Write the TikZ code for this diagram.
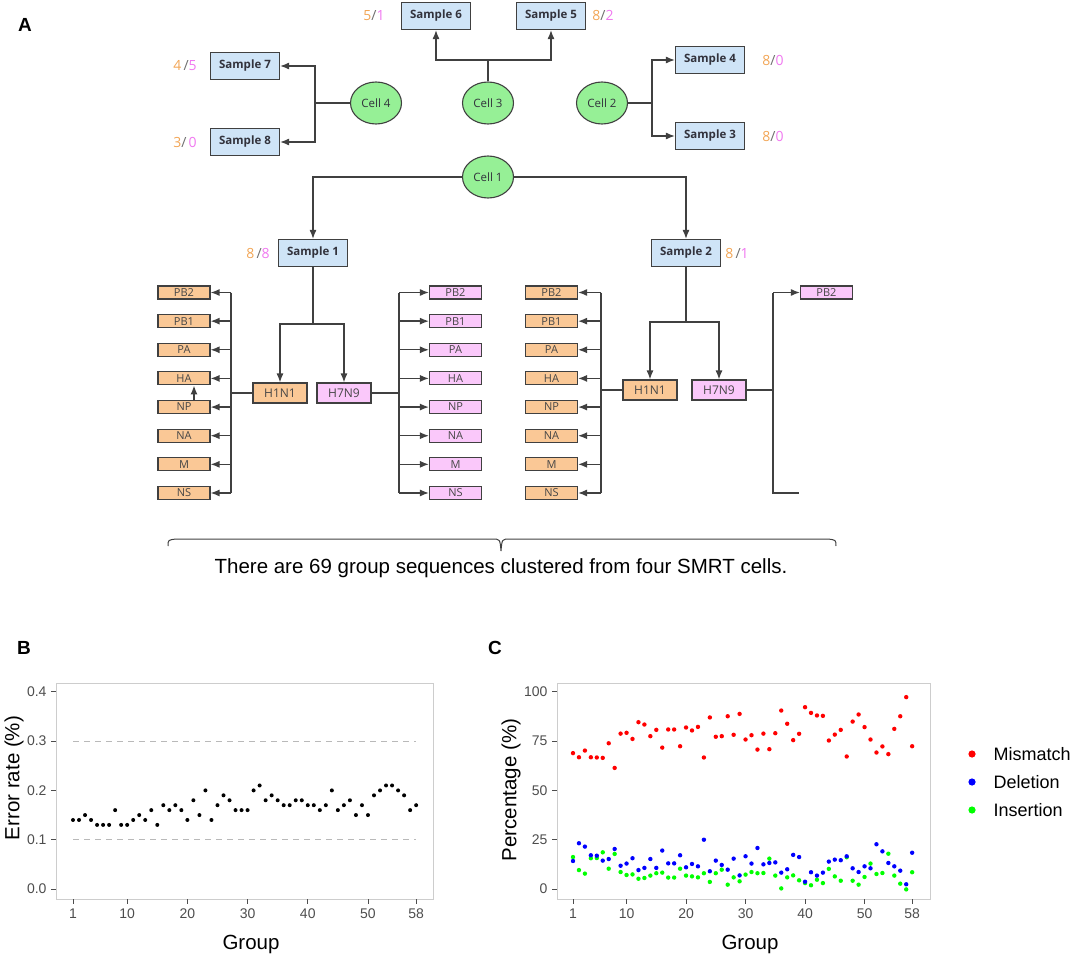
\documentclass[tikz,border=0pt]{standalone}
\usepackage{fontspec}
\setmainfont{Liberation Sans}
\newfontfamily\boxfont{Open Sans}
\usetikzlibrary{shapes.geometric,arrows.meta}
\newcommand\myfs[1]{\fontsize{#1}{#1}\selectfont}
\definecolor{dg}{RGB}{64,64,64}
\definecolor{dtext}{RGB}{50,50,60}
\definecolor{gtext}{RGB}{70,70,70}
\definecolor{sblue}{RGB}{207,228,247}
\definecolor{cgreen}{RGB}{150,240,150}
\definecolor{orfill}{RGB}{250,200,150}
\definecolor{pkfill}{RGB}{250,200,250}
\definecolor{ornum}{RGB}{242,165,85}
\definecolor{pknum}{RGB}{240,120,240}
\definecolor{slashc}{RGB}{110,110,110}
\definecolor{tickc}{RGB}{77,77,77}
\definecolor{framec}{RGB}{205,205,205}
\definecolor{dashc}{RGB}{185,185,185}
\tikzset{
  samp/.style={draw=dg, line width=1.1pt, fill=sblue, minimum width=69pt, minimum height=27pt, inner sep=0pt, font=\boxfont\bfseries\myfs{11.5}, text=dtext},
  cellnode/.style={ellipse, draw=dg, line width=1.1pt, fill=cgreen, minimum width=51pt, minimum height=42pt, inner sep=0pt, font=\boxfont\myfs{11.5}, text=dtext},
  gor/.style={draw=dg, line width=1.1pt, fill=orfill, minimum width=52pt, minimum height=13pt, inner sep=0pt, font=\boxfont\myfs{11}, text=gtext},
  gpk/.style={gor, fill=pkfill},
  subor/.style={gor, minimum width=54pt, minimum height=20pt, font=\boxfont\myfs{12}},
  subpk/.style={subor, fill=pkfill},
  conn/.style={draw=dg, line width=1.3pt},
  arr/.style={conn, -{Latex[length=9pt,width=7pt]}},
  ratio/.style={font=\boxfont\myfs{14}},
  ticklab/.style={font=\myfs{14}, text=tickc},
  axtitle/.style={font=\myfs{20.5}},
  panel/.style={font=\bfseries\myfs{19}},
  frame/.style={draw=framec, line width=1pt},
  tk/.style={draw=tickc, line width=0.8pt},
  refline/.style={draw=dashc, line width=1pt, dash pattern=on 6pt off 5pt},
}
\begin{document}
\begin{tikzpicture}[x=1pt,y=-1pt]
\useasboundingbox (0,0) rectangle (1072,958);
% ---------------- Panel A ----------------
\node[panel] (lA) at (25,25) {A};
\node[samp] (s6) at (436,16) {Sample 6};
\node[samp] (s5) at (551,16) {Sample 5};
\node[samp] (s7) at (245,66) {Sample 7};
\node[samp] (s8) at (245,142) {Sample 8};
\node[samp] (s4) at (710,60) {Sample 4};
\node[samp] (s3) at (710,136) {Sample 3};
\node[samp] (s1) at (313,253) {Sample 1};
\node[samp] (s2) at (686,253) {Sample 2};
\node[cellnode] (c4) at (376,103) {Cell 4};
\node[cellnode] (c3) at (488,103) {Cell 3};
\node[cellnode] (c2) at (602,103) {Cell 2};
\node[cellnode] (c1) at (488,177) {Cell 1};
% ratios
\node[ratio] (r6) at (374,16) {\textcolor{ornum}{5}\textcolor{slashc}{/}\textcolor{pknum}{1}};
\node[ratio] (r5) at (603,16) {\textcolor{ornum}{8}\textcolor{slashc}{/}\textcolor{pknum}{2}};
\node[ratio] (r7) at (185,66) {\textcolor{ornum}{4}\,\textcolor{slashc}{/}\textcolor{pknum}{5}};
\node[ratio] (r8) at (185,142) {\textcolor{ornum}{3}\textcolor{slashc}{/}\,\textcolor{pknum}{0}};
\node[ratio] (r4) at (773,60) {\textcolor{ornum}{8}\textcolor{slashc}{/}\textcolor{pknum}{0}};
\node[ratio] (r3) at (773,136) {\textcolor{ornum}{8}\textcolor{slashc}{/}\textcolor{pknum}{0}};
\node[ratio] (r1) at (258,253) {\textcolor{ornum}{8}\,\textcolor{slashc}{/}\textcolor{pknum}{8}};
\node[ratio] (r2) at (737,253) {\textcolor{ornum}{8}\,\textcolor{slashc}{/}\textcolor{pknum}{1}};
% top connectors
\draw[conn] (c3.north) -- (488,60) coordinate (j3);
\draw[arr] (j3) -| (s6.south);
\draw[arr] (j3) -| (s5.south);
\draw[conn] (c4.west) -- (315,103) coordinate (j4);
\draw[arr] (j4) |- (s7.east);
\draw[arr] (j4) |- (s8.east);
\draw[conn] (c2.east) -- (652,103) coordinate (j2);
\draw[arr] (j2) |- (s4.west);
\draw[arr] (j2) |- (s3.west);
\draw[arr] (c1.west) -| (s1.north);
\draw[arr] (c1.east) -| (s2.north);
% subtype nodes
\node[subor] (h1l) at (280,393) {H1N1};
\node[subpk] (h7l) at (344,393) {H7N9};
\node[subor] (h1r) at (650,390) {H1N1};
\node[subpk] (h7r) at (719,390) {H7N9};
\draw[conn] (s1.south) -- (313,324) coordinate (js1);
\draw[arr] (js1) -| (h1l.north);
\draw[arr] (js1) -| (h7l.north);
\draw[conn] (s2.south) -- (686,322) coordinate (js2);
\draw[arr] (js2) -| (h1r.north);
\draw[arr] (js2) -| (h7r.north);
% gene boxes
\foreach \g [count=\i from 0] in {PB2,PB1,PA,HA,NP,NA,M,NS} {
  \node[gor] (lo\i) at (184,{292.5+\i*28.64}) {\g};
  \node[gpk] (lp\i) at (455.5,{292.5+\i*28.64}) {\g};
  \node[gor] (ro\i) at (551.5,{292.5+\i*28.64}) {\g};
}
\node[gpk] (rp0) at (826.5,292.5) {PB2};
\coordinate (jl) at (231,393);
\coordinate (jp) at (399,393);
\coordinate (jr) at (601,390);
\coordinate (jq) at (773,390);
\draw[conn] (h1l.west) -- (jl);
\draw[conn] (h7l.east) -- (jp);
\draw[conn] (h1r.west) -- (jr);
\draw[conn] (h7r.east) -- (jq);
\draw[conn] (jl |- lo0) -- (jl |- lo7);
\draw[conn] (jp |- lp0) -- (jp |- lp7);
\draw[conn] (jr |- ro0) -- (jr |- ro7);
\coordinate (qend) at (799,{292.5+7*28.64});
\draw[conn] (jq |- rp0) -- (jq |- qend) -- (qend);
\foreach \i in {0,...,7} {
  \draw[arr] (jl |- lo\i) -- (lo\i.east);
  \draw[arr] (jp |- lp\i) -- (lp\i.west);
  \draw[arr] (jr |- ro\i) -- (ro\i.east);
}
\draw[arr] (jq |- rp0) -- (rp0.west);
\draw[arr] ([xshift=10pt]lo4.north) -- ([xshift=10pt]lo3.south);
% brace
\draw[draw=dg, line width=1pt] (168,546) .. controls (168,540) .. (176,539) -- (492,539) .. controls (500,539) .. (501,551) .. controls (502,539) .. (510,539) -- (828,539) .. controls (836,540) .. (836,546);
\node[font=\myfs{20.5}] (note) at (501,568) {There are 69 group sequences clustered from four SMRT cells.};
% ---------------- Panel B ----------------
\node[panel] (lB) at (24,648) {B};
\draw[frame] (56,683) rectangle (433,899);
\draw[refline] (73,{889-0.3*493}) -- (416,{889-0.3*493});
\draw[refline] (73,{889-0.1*493}) -- (416,{889-0.1*493});
\foreach \v in {0.0,0.1,0.2,0.3,0.4} {
  \draw[tk] (51,{889-\v*493}) -- (56,{889-\v*493});
  \node[ticklab, anchor=east] at (50,{889-\v*493}) {\v};
}
\foreach \g in {1,10,20,30,40,50,58} {
  \draw[tk] ({73+(\g-1)*6.02},899) -- ({73+(\g-1)*6.02},904);
  \node[ticklab, anchor=north] at ({73+(\g-1)*6.02},905) {\g};
}
\node[axtitle] (bx) at (251,944) {Group};
\node[axtitle, rotate=90] (by) at (14,778) {Error rate (\%)};
\foreach \v [count=\i] in {0.14,0.14,0.15,0.14,0.13,0.13,0.13,0.16,0.13,0.13,0.14,0.15,0.14,0.16,0.13,0.17,0.16,0.17,0.16,0.14,0.18,0.15,0.20,0.14,0.17,0.19,0.18,0.16,0.16,0.16,0.20,0.21,0.18,0.19,0.18,0.17,0.17,0.18,0.18,0.17,0.17,0.16,0.17,0.20,0.16,0.17,0.18,0.15,0.17,0.15,0.19,0.20,0.21,0.21,0.20,0.19,0.16,0.17} {
  \fill[black] ({73+(\i-1)*6.02},{889-\v*493}) circle (2pt);
}
% ---------------- Panel C ----------------
\node[panel] (lC) at (495,648) {C};
\draw[frame] (557,683) rectangle (930,899);
\foreach \v in {0,25,50,75,100} {
  \draw[tk] (552,{889-\v*1.972}) -- (557,{889-\v*1.972});
  \node[ticklab, anchor=east] at (551,{889-\v*1.972}) {\v};
}
\foreach \g in {1,10,20,30,40,50,58} {
  \draw[tk] ({573+(\g-1)*5.95},899) -- ({573+(\g-1)*5.95},904);
  \node[ticklab, anchor=north] at ({573+(\g-1)*5.95},905) {\g};
}
\node[axtitle] (cx) at (750,944) {Group};
\node[axtitle, rotate=90] (cy) at (511,790) {Percentage (\%)};
\foreach \v [count=\i] in {68.9,66.8,70.2,66.8,66.7,66.5,73.9,61.4,78.8,79.2,76.1,84.6,83.4,77.5,80.7,71.7,80.9,80.9,72.4,81.9,80.4,82.2,66.7,87.0,77.2,77.5,87.6,78.2,88.8,75.8,78.0,70.7,78.8,70.9,79.0,90.5,83.8,75.5,78.7,92.2,89.3,88.0,87.8,75.3,78.3,80.7,67.2,84.9,88.5,82.1,75.8,69.2,72.3,68.4,81.2,87.6,97.3,72.4} {
  \fill[red] ({573+(\i-1)*5.95},{889-\v*1.972}) circle (2.2pt);
}
\foreach \v [count=\i] in {16.2,9.6,7.8,15.6,15.7,18.6,10.3,17.8,8.6,7.1,7.4,5.2,5.6,6.8,8.0,8.3,5.8,5.8,10.3,6.8,6.4,5.9,8.0,3.6,8.0,9.8,2.2,5.9,3.9,7.3,8.6,8.0,8.1,15.4,6.8,0.3,5.9,6.9,4.4,3.0,1.9,4.7,3.0,10.2,6.4,4.2,16.1,4.2,2.2,6.1,12.9,7.6,8.1,17.9,6.8,2.7,-0.2,8.5} {
  \fill[green] ({573+(\i-1)*5.95},{889-\v*1.972}) circle (2.2pt);
}
\foreach \v [count=\i] in {14.2,23.2,21.5,17.1,16.9,14.4,15.2,20.3,11.8,12.9,15.6,9.6,10.7,15.2,10.7,19.5,13.0,13.0,17.1,11.0,12.7,11.5,25.0,9.0,14.4,12.2,9.8,15.4,6.9,16.6,12.9,20.8,12.5,13.2,13.5,8.3,10.0,17.3,16.2,3.7,8.5,6.8,8.3,13.9,14.9,14.6,16.6,10.5,8.6,11.5,10.5,22.7,19.1,13.2,11.5,9.3,2.4,18.4} {
  \fill[blue] ({573+(\i-1)*5.95},{889-\v*1.972}) circle (2.2pt);
}
% legend
\fill[red] (972,754) circle (3.6pt);
\fill[blue] (972,782) circle (3.6pt);
\fill[green] (972,810) circle (3.6pt);
\node[font=\myfs{18}, anchor=west] (lgm) at (990,754) {Mismatch};
\node[font=\myfs{18}, anchor=west] (lgd) at (990,782) {Deletion};
\node[font=\myfs{18}, anchor=west] (lgi) at (990,810) {Insertion};
\end{tikzpicture}
\end{document}
